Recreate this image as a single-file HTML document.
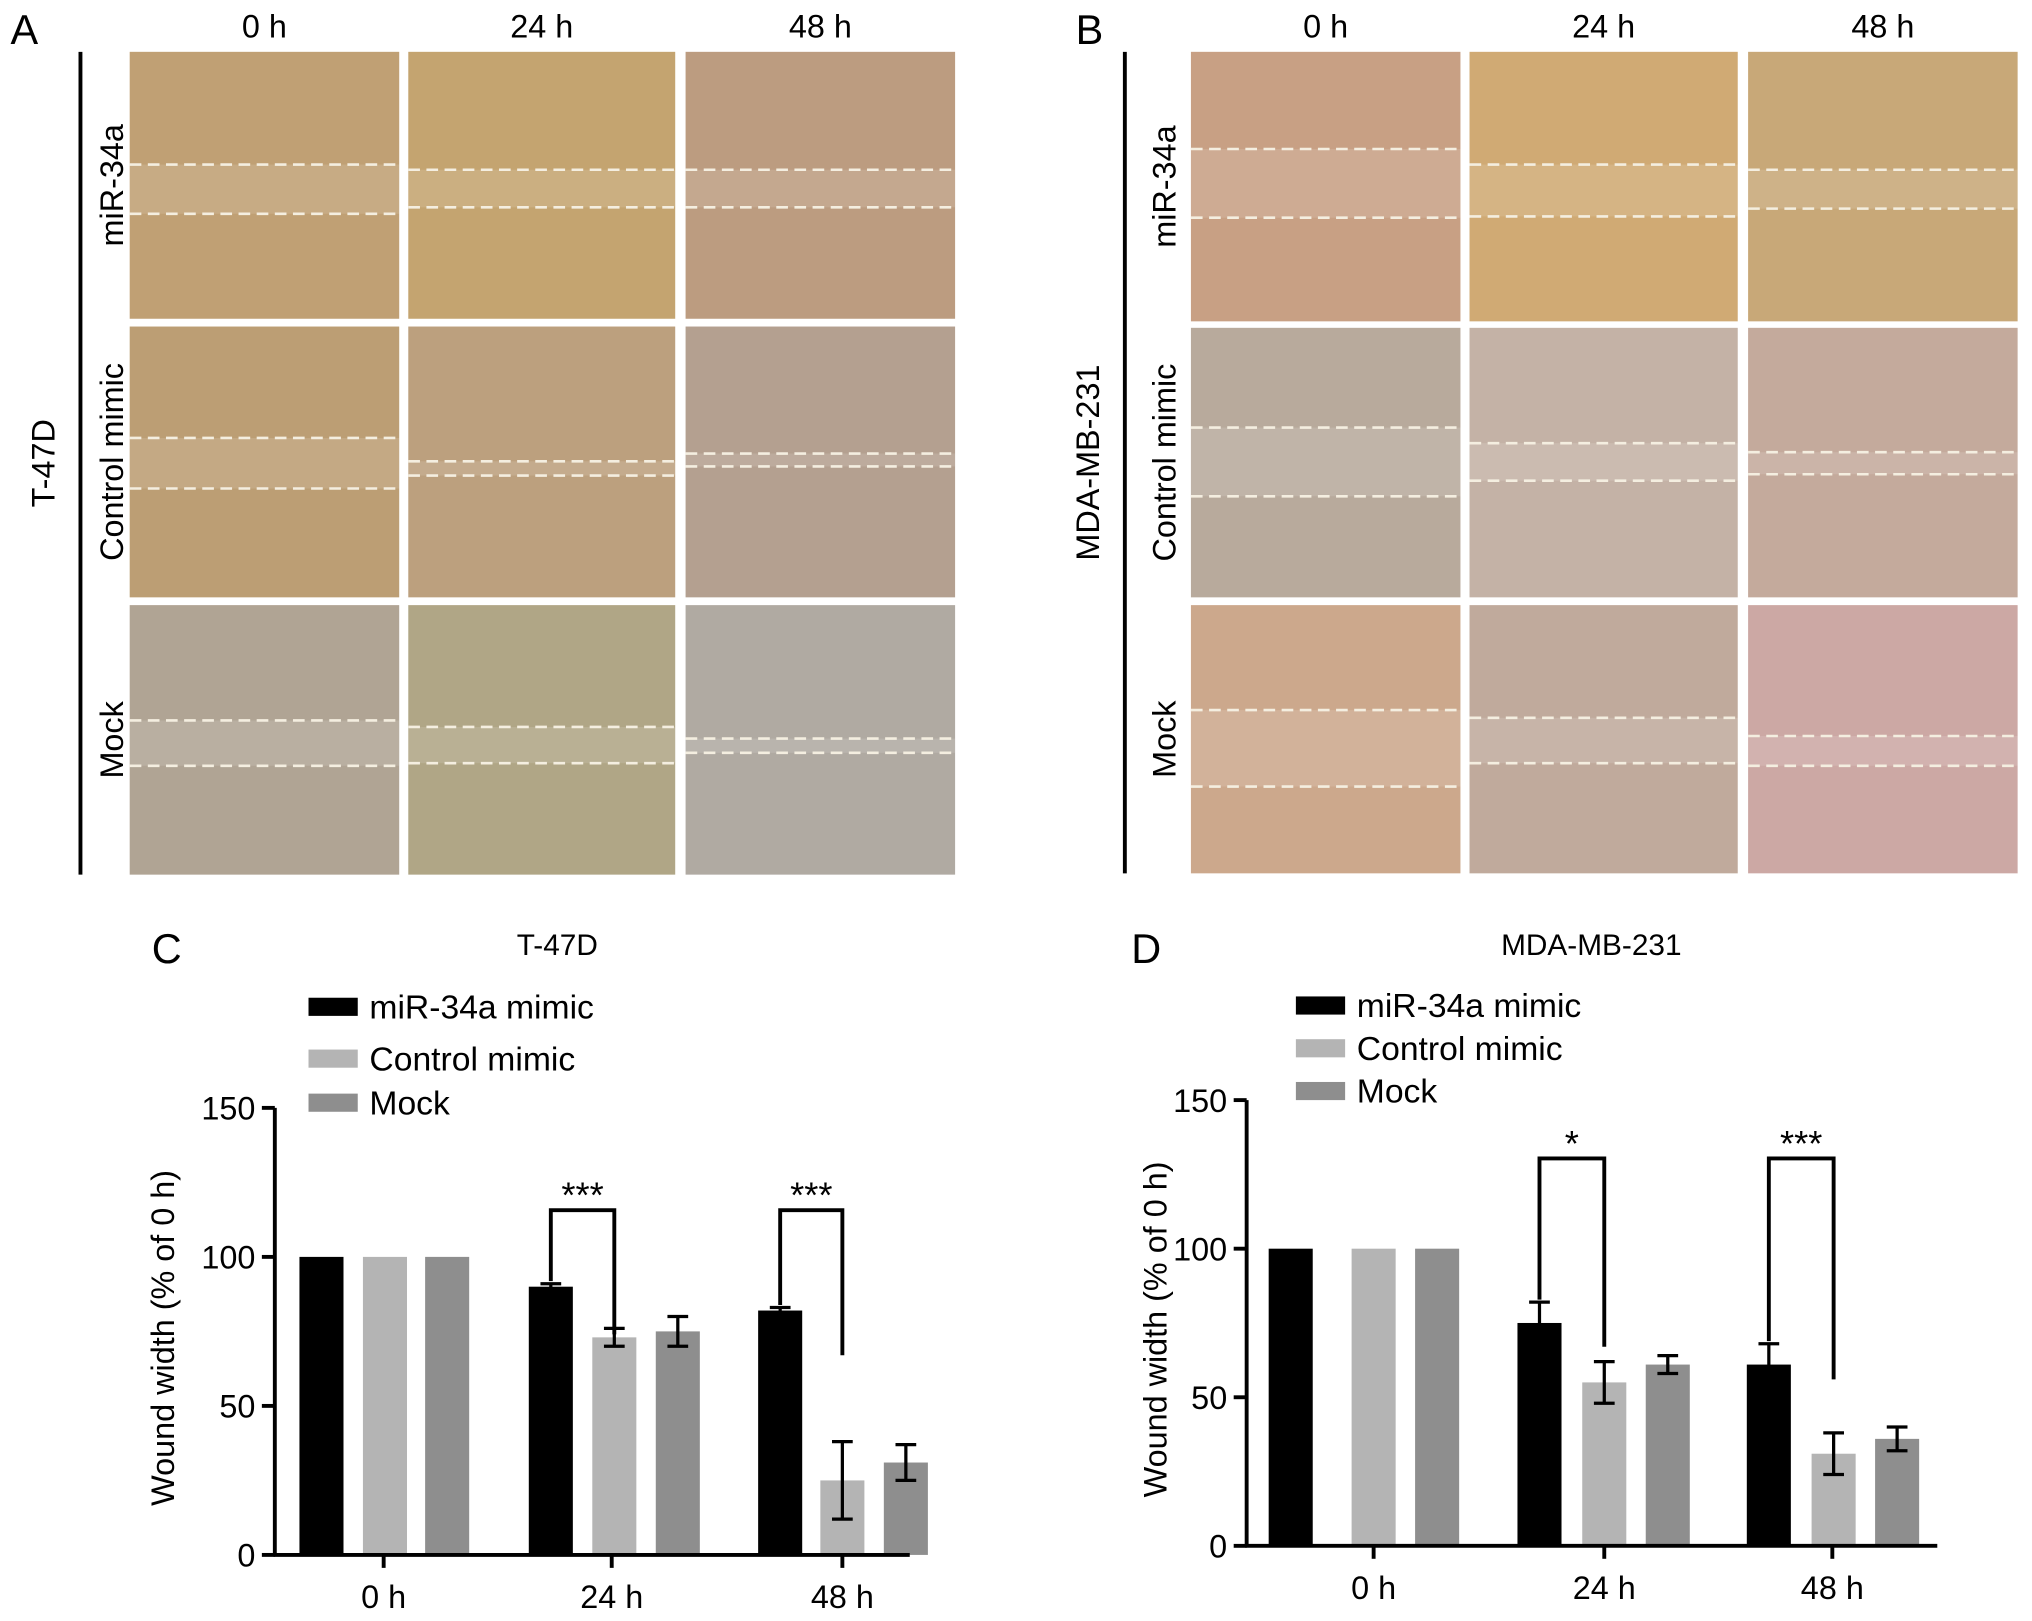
<!DOCTYPE html>
<html><head><meta charset="utf-8"><style>
html,body{margin:0;padding:0;background:#fff}
svg{display:block;font-family:"Liberation Sans",sans-serif}
</style></head><body>
<svg id="fig" width="2032" height="1621" viewBox="0 0 1568 1251" xmlns="http://www.w3.org/2000/svg">
<rect width="1568" height="1251" fill="#fff"/>
<g id="micro"></g>
<g id="chartC"></g>
<g id="chartD"></g>
</svg>
<script>
const NS='http://www.w3.org/2000/svg';
const timeLabels=['0 h','24 h','48 h'];
const seriesNames=['miR-34a mimic','Control mimic','Mock'];
const seriesColors=['#000000','#b4b4b4','#8e8e8e'];
// Chart C data (T-47D)
const cValues=[[100,90,82],[100,73,25],[100,75,31]];
const cErrors=[[0,1,1],[0,3,13],[0,5,6]];
const cBracketEnd=[0,74,67];
// Chart D data (MDA-MB-231)
const dValues=[[100,75,61],[100,55,31],[100,61,36]];
const dErrors=[[0,7,7],[0,7,7],[0,3,4]];
const dBracketEnd=[0,67,56];
const yTicks=[0,50,100,150];
const cSig=['','***','***'];
const dSig=['','*','***'];

function mk(tag,attrs,parent,text){const e=document.createElementNS(NS,tag);for(const k in attrs)e.setAttribute(k,attrs[k]);if(text!==undefined)e.textContent=text;parent.appendChild(e);return e;}

const micro=document.getElementById('micro');
function panels(colsX,rowsY,colors,wounds,letter,lx,cell,rowLabels,barX,labelX){
  const g=micro;
  let t=mk('text',{x:lx,y:34,'font-size':32},g,letter);
  
  
  colsX.forEach((cx,i)=>{let tt=mk('text',{x:(cx[0]+cx[1])/2,y:29,'font-size':25,'text-anchor':'middle'},g,timeLabels[i]);
    });
  rowsY.forEach((ry,r)=>{colsX.forEach((cx,c)=>{
    const col=colors[r][c],w=wounds[r][c];
    let rc=mk('rect',{x:cx[0],y:ry[0],width:cx[1]-cx[0],height:ry[1]-ry[0],fill:col},g);
    
    mk('rect',{x:cx[0],y:w[0],width:cx[1]-cx[0],height:w[1]-w[0],fill:'#fff','fill-opacity':0.12},g);
    [w[0],w[1]].forEach(yy=>{let l=mk('line',{x1:cx[0],x2:cx[1],y1:yy,y2:yy,stroke:'#f4eee0','stroke-width':2,'stroke-dasharray':'9 5'},g);
      });
  });
  let rl=mk('text',{transform:`translate(${labelX},${(ry[0]+ry[1])/2}) rotate(-90)`,'font-size':25,'text-anchor':'middle'},g,rowLabels[r]);
  
  });
  mk('line',{x1:barX,x2:barX,y1:rowsY[0][0],y2:rowsY[2][1],stroke:'#000','stroke-width':3},g);
  let cl=mk('text',{transform:`translate(${barX-20},${(rowsY[0][0]+rowsY[2][1])/2}) rotate(-90)`,'font-size':25,'text-anchor':'middle'},g,cell);
  
}
panels([[100,308],[315,521],[529,737]],[[40,246],[252,461],[467,675]],
 [['#c0a074','#c4a470','#bc9c80'],['#bc9e74','#bca07e','#b4a090'],['#b0a494','#b0a686','#b0aaa2']],
 [[[127,165],[131,160],[131,160]],[[338,377],[356,367],[350,360]],[[556,591],[561,589],[570,581]]],
 'A',8,'T-47D',['miR-34a','Control mimic','Mock'],62,95);
panels([[919,1127],[1134,1341],[1349,1557]],[[40,248],[253,461],[467,674]],
 [['#c8a084','#d0aa74','#c8a878'],['#b8aa9c','#c4b2a6','#c4aa9c'],['#cca88c','#c0aa9c','#cca8a4']],
 [[[115,168],[127,167],[131,161]],[[330,383],[342,371],[349,366]],[[548,607],[554,589],[568,591]]],
 'B',830,'MDA-MB-231',['miR-34a','Control mimic','Mock'],868,907);

function chart(id,cfg,values,errors,sig,bend){
  const g=document.getElementById(id);
  const y=v=>cfg.y0-(cfg.y0-cfg.y150)*v/150;
  let t=mk('text',{x:cfg.letterX,y:743,'font-size':32},g,cfg.letter);
  
  t=mk('text',{x:cfg.titleX,y:737,'font-size':23,'text-anchor':'middle'},g,cfg.title);
  
  seriesNames.forEach((n,i)=>{
    let s=mk('rect',{x:cfg.legX,y:cfg.legY[i]-7,width:38,height:14,fill:seriesColors[i]},g);
    
    let lt=mk('text',{x:cfg.legX+47,y:cfg.legY[i]+9,'font-size':26},g,n);
    
  });
  values.forEach((ser,s)=>ser.forEach((v,k)=>{
    const cx=cfg.centers[k]+cfg.off[k][s];
    let b=mk('rect',{x:cx-17,y:y(v),width:34,height:cfg.y0-y(v),fill:seriesColors[s]},g);
    
    const e=errors[s][k];
    if(e>0){
      mk('line',{x1:cx,x2:cx,y1:y(v-e),y2:y(v+e),stroke:'#000','stroke-width':2.5},g);
      mk('line',{x1:cx-8,x2:cx+8,y1:y(v+e),y2:y(v+e),stroke:'#000','stroke-width':2.5},g);
      mk('line',{x1:cx-8,x2:cx+8,y1:y(v-e),y2:y(v-e),stroke:'#000','stroke-width':2.5},g);
    }
  }));
  sig.forEach((sg,k)=>{ if(!sg)return;
    const x1=cfg.centers[k]+cfg.off[k][0],x2=cfg.centers[k]+cfg.off[k][1];
    const ya=y(values[0][k]+errors[0][k])-2,yb=y(bend[k]);
    let p=mk('path',{d:`M${x1},${ya} V${cfg.brY} H${x2} V${yb}`,fill:'none',stroke:'#000','stroke-width':3},g);
    
    let st=mk('text',{x:(x1+x2)/2,y:cfg.brY-2,'font-size':28,'text-anchor':'middle'},g,sg);
    
  });
  let ya=mk('line',{x1:cfg.ax,x2:cfg.ax,y1:cfg.y150,y2:cfg.y0+1,stroke:'#000','stroke-width':3},g);
  
  let xa=mk('line',{x1:cfg.ax-1,x2:cfg.axEnd,y1:cfg.y0,y2:cfg.y0,stroke:'#000','stroke-width':3},g);
  
  yTicks.forEach(v=>{
    mk('line',{x1:cfg.ax-10,x2:cfg.ax,y1:y(v),y2:y(v),stroke:'#000','stroke-width':3},g);
    let tl=mk('text',{x:cfg.ax-15,y:y(v)+9,'font-size':25,'text-anchor':'end'},g,String(v));
    
  });
  cfg.centers.forEach((c,k)=>{
    mk('line',{x1:c,x2:c,y1:cfg.y0,y2:cfg.y0+10,stroke:'#000','stroke-width':3},g);
    let xl=mk('text',{x:c,y:cfg.y0+41,'font-size':25,'text-anchor':'middle'},g,timeLabels[k]);
    
  });
  let yt=mk('text',{transform:`translate(${cfg.ytX},${(cfg.y0+cfg.y150)/2+5}) rotate(-90)`,'font-size':25,'text-anchor':'middle'},g,'Wound width (% of 0 h)');
  
}
chart('chartC',{letter:'C',letterX:117,title:'T-47D',titleX:430,y0:1200,y150:855,ax:212,axEnd:702,
  centers:[296,472,650],off:[[-48,1,49],[-47,2,51],[-48,0,49]],legX:238,legY:[777,817,851],brY:934,ytX:134},cValues,cErrors,cSig,cBracketEnd);
chart('chartD',{letter:'D',letterX:873,title:'MDA-MB-231',titleX:1228,y0:1193,y150:849,ax:962,axEnd:1495,
  centers:[1060,1238,1414],off:[[-64,0,49],[-50,0,49],[-49,1,50]],legX:1000,legY:[776,809,842],brY:894,ytX:900},dValues,dErrors,dSig,dBracketEnd);
</script>
</body></html>
